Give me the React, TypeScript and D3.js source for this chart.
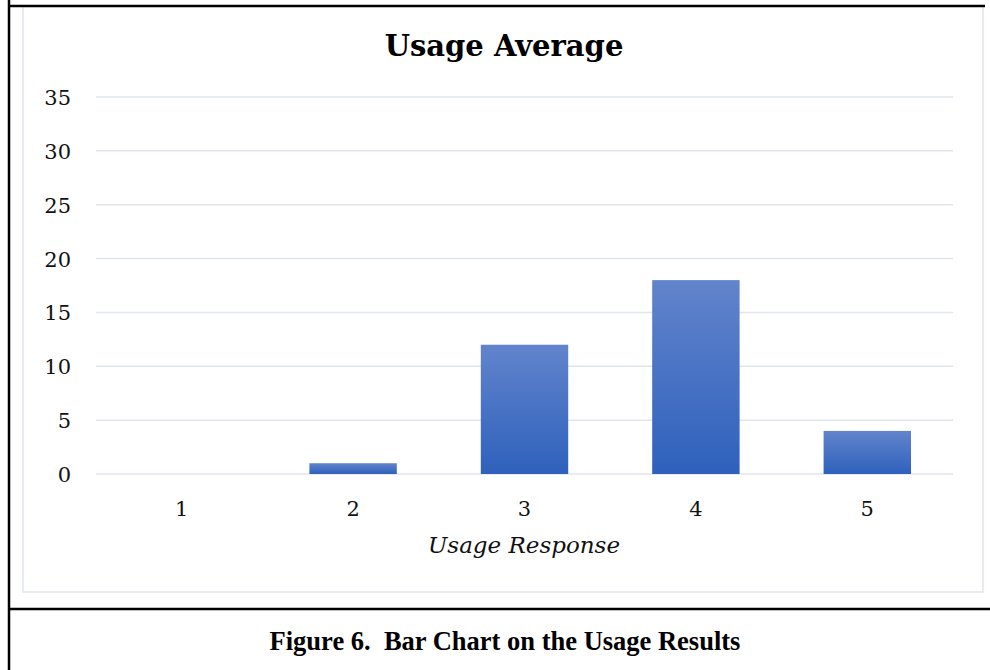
import React from "react";
import * as d3 from "d3";

const categories = ["1", "2", "3", "4", "5"];
const values = [0, 1, 12, 18, 4];
const yTicks = [0, 5, 10, 15, 20, 25, 30, 35];
const title = "Usage Average";
const xTitle = "Usage Response";
const caption = "Figure 6.  Bar Chart on the Usage Results";

const W = 990;
const H = 670;
const plot = { left: 96, right: 953, top: 97, bottom: 474 };

export default function App() {
  const x = d3
    .scaleBand<string>()
    .domain(categories)
    .range([plot.left, plot.right])
    .paddingInner(0.49)
    .paddingOuter(0.245);
  const y = d3.scaleLinear().domain([0, 35]).range([plot.bottom, plot.top]);
  const chartFont = "'DejaVu Serif', Georgia, serif";

  return (
    <svg
      width={W}
      height={H}
      style={{ position: "absolute", left: 0, top: 0, background: "#fff" }}
    >
      <defs>
        <linearGradient id="barGrad" x1="0" y1="0" x2="0" y2="1">
          <stop offset="0%" stopColor="#6284cc" />
          <stop offset="100%" stopColor="#2e61bc" />
        </linearGradient>
      </defs>
      {/* chart area border */}
      <rect x={23} y={6} width={960} height={586} fill="none" stroke="#e1e5ec" strokeWidth={1.5} />
      {/* outer frame */}
      <line x1={9} y1={0} x2={9} y2={H} stroke="#000" strokeWidth={2.5} />
      <line x1={8} y1={6} x2={985} y2={6} stroke="#000" strokeWidth={2.5} />
      <line x1={8} y1={609} x2={W} y2={609} stroke="#000" strokeWidth={2.5} />

      <text
        x={504}
        y={56}
        textAnchor="middle"
        fontFamily={chartFont}
        fontWeight="bold"
        fontSize={29}
        fill="#000"
      >
        {title}
      </text>

      {yTicks.map((t) => (
        <g key={t}>
          <line
            x1={plot.left}
            x2={plot.right}
            y1={y(t)}
            y2={y(t)}
            stroke="#e1e5ec"
            strokeWidth={1.5}
          />
          <text
            x={71}
            y={y(t) + 8}
            textAnchor="end"
            fontFamily={chartFont}
            fontSize={21}
            fill="#111"
          >
            {t}
          </text>
        </g>
      ))}

      {categories.map((c, i) => (
        <rect
          key={c}
          x={x(c)}
          y={y(values[i])}
          width={x.bandwidth()}
          height={plot.bottom - y(values[i])}
          fill="url(#barGrad)"
        />
      ))}

      {categories.map((c) => (
        <text
          key={c}
          x={(x(c) ?? 0) + x.bandwidth() / 2}
          y={516}
          textAnchor="middle"
          fontFamily={chartFont}
          fontSize={21}
          fill="#111"
        >
          {c}
        </text>
      ))}

      <text
        x={524}
        y={553}
        textAnchor="middle"
        fontFamily={chartFont}
        fontStyle="italic"
        fontSize={23}
        fill="#111"
      >
        {xTitle}
      </text>

      <text
        x={505}
        y={650}
        textAnchor="middle"
        fontFamily="'Liberation Serif', 'Times New Roman', serif"
        fontWeight="bold"
        fontSize={26.5}
        fill="#000"
        style={{ whiteSpace: "pre" }}
      >
        {caption}
      </text>
    </svg>
  );
}
